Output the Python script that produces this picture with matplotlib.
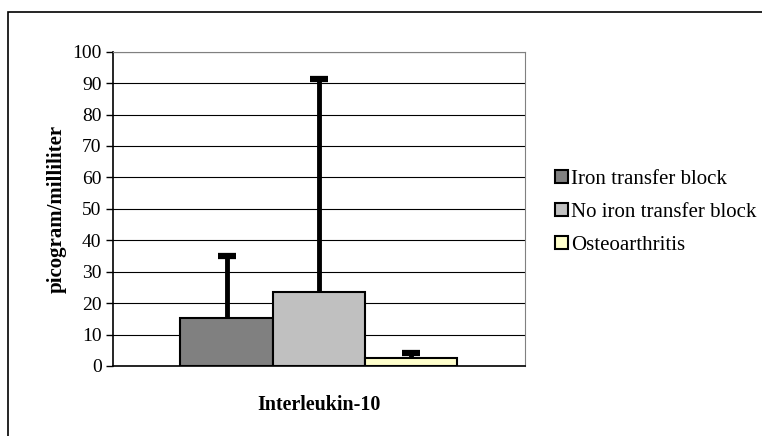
import matplotlib.pyplot as plt
from matplotlib.patches import Rectangle

# Data
category = "Interleukin-10"
groups = ["Iron transfer block", "No iron transfer block", "Osteoarthritis"]
means = [15.2, 23.4, 2.5]
errors = [19.8, 67.9, 1.7]
colors = ["#808080", "#c0c0c0", "#ffffcc"]

plt.rcParams['font.family'] = ['Liberation Serif', 'DejaVu Serif']

fig = plt.figure(figsize=(7.62, 4.36), dpi=100)
W, H = 762, 436

# outer frame of the chart
fig.patches.append(Rectangle((8 / W, -0.1), 1.2, 1.1 - 12 / H, transform=fig.transFigure,
                             fill=False, edgecolor='black', linewidth=1.2))

ax = fig.add_axes([112.7 / W, 1 - 366 / H, (525 - 112.7) / W, (366 - 51.7) / H])

xs = [-1, 0, 1]
for x, m, e, c, g in zip(xs, means, errors, colors, groups):
    ax.bar(x, m, width=1.0, color=c, edgecolor='black', linewidth=1.5, label=g, zorder=3)
    # upper error bar only, with a cap at the top
    ax.plot([x, x], [m, m + e], color='black', linewidth=3.5, solid_capstyle='butt', zorder=4)
    ax.plot([x], [m + e], marker='_', markersize=13, mew=4.5, color='black', zorder=4)

ax.set_xlim(-2.235, 2.235)
ax.set_ylim(0, 100)
ax.set_yticks(range(0, 101, 10))
ax.set_xticks([])
ax.yaxis.grid(True, color='black', linewidth=0.8, zorder=0)
ax.set_axisbelow(True)
for s in ['top', 'right']:
    ax.spines[s].set_color('#808080')
ax.spines['left'].set_linewidth(1.2)
ax.spines['bottom'].set_linewidth(1.2)
ax.tick_params(axis='y', labelsize=14, length=5, width=1, pad=3)

ax.set_ylabel("picogram/milliliter", fontsize=15, fontweight='bold', labelpad=4)
fig.text(319 / W, 1 - 405 / H, category, fontsize=14.4, fontweight='bold', ha='center', va='center')

ax.legend(loc='upper left', bbox_to_anchor=(555 / W, 1 - 170 / H), bbox_transform=fig.transFigure,
          frameon=False, fontsize=15, handlelength=0.6, handleheight=0.6, handletextpad=0.15,
          labelspacing=0.66, borderaxespad=0, borderpad=0)

fig.savefig("out.png", dpi=100)
